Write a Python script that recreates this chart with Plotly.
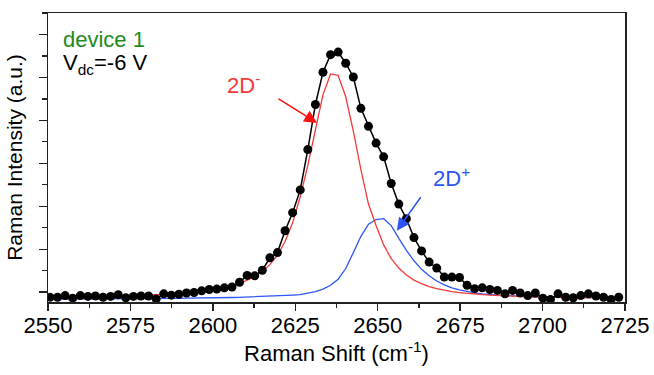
import plotly.graph_objects as go

# Raman shift grid (cm^-1)
shift = [2550.6, 2552.9, 2555.2, 2557.5, 2559.8, 2562.1, 2564.4, 2566.7, 2569.0, 2571.3,
         2573.6, 2575.9, 2578.2, 2580.5, 2582.8, 2585.1, 2587.4, 2589.7, 2592.0, 2594.3,
         2596.6, 2598.9, 2601.2, 2603.5, 2605.8, 2608.1, 2610.4, 2612.7, 2615.0, 2617.3,
         2619.6, 2621.9, 2624.2, 2626.5, 2628.8, 2631.1, 2633.4, 2635.7, 2638.0, 2640.3,
         2642.6, 2644.9, 2647.2, 2649.5, 2651.8, 2654.1, 2656.4, 2658.7, 2661.0, 2663.3,
         2665.6, 2667.9, 2670.2, 2672.5, 2674.8, 2677.1, 2679.4, 2681.7, 2684.0, 2686.3,
         2688.6, 2690.9, 2693.2, 2695.5, 2697.8, 2700.1, 2702.4, 2704.7, 2707.0, 2709.3,
         2711.6, 2713.9, 2716.2, 2718.5, 2720.8, 2723.1]

# measured spectrum (black dots)
measured = [-0.12, -0.12, -0.08, -0.14, -0.08, -0.10, -0.09, -0.12, -0.10, -0.06,
            -0.13, -0.10, -0.09, -0.09, -0.16, -0.04, -0.07, -0.05, -0.02, -0.01,
            0.03, 0.06, 0.07, 0.10, 0.12, 0.23, 0.39, 0.38, 0.51, 0.80,
            0.92, 1.43, 1.85, 2.38, 3.32, 4.37, 5.12, 5.53, 5.59, 5.33,
            5.01, 4.28, 3.86, 3.47, 3.15, 2.53, 2.05, 1.71, 1.27, 0.96,
            0.70, 0.56, 0.35, 0.35, 0.34, 0.16, 0.08, 0.10, 0.06, 0.04,
            -0.04, 0.04, -0.02, -0.08, -0.02, -0.14, -0.17, -0.04, -0.12, -0.13,
            -0.08, -0.04, -0.09, -0.12, -0.17, -0.12]

# 2D- component (red)
comp_minus = [-0.13, -0.13, -0.13, -0.12, -0.12, -0.12, -0.11, -0.11, -0.10, -0.10,
              -0.09, -0.09, -0.08, -0.07, -0.06, -0.05, -0.04, -0.03, -0.01, 0.01,
              0.03, 0.05, 0.08, 0.11, 0.15, 0.20, 0.28, 0.36, 0.48, 0.64,
              0.86, 1.18, 1.62, 2.22, 2.95, 3.80, 4.60, 5.08, 5.05, 4.55,
              3.75, 2.85, 2.05, 1.55, 1.10, 0.78, 0.56, 0.40, 0.28, 0.20,
              0.13, 0.08, 0.04, 0.01, -0.01, -0.03, -0.05, -0.06, -0.07, -0.08,
              -0.09, -0.10, -0.10, -0.11, -0.11, -0.12, -0.12, -0.12, -0.13, -0.13,
              -0.13, -0.13, -0.13, -0.14, -0.14, -0.14]

# 2D+ component (blue)
comp_plus = [-0.16, -0.16, -0.16, -0.16, -0.16, -0.16, -0.16, -0.155, -0.155, -0.155,
             -0.155, -0.15, -0.15, -0.15, -0.15, -0.15, -0.145, -0.145, -0.14, -0.14,
             -0.14, -0.135, -0.13, -0.13, -0.125, -0.12, -0.115, -0.11, -0.10, -0.095,
             -0.09, -0.08, -0.07, -0.06, -0.03, 0.01, 0.07, 0.16, 0.30, 0.55,
             0.92, 1.30, 1.58, 1.69, 1.71, 1.55, 1.25, 0.97, 0.73, 0.53,
             0.38, 0.26, 0.17, 0.10, 0.05, 0.01, -0.02, -0.04, -0.06, -0.07,
             -0.08, -0.09, -0.10, -0.10, -0.11, -0.11, -0.12, -0.12, -0.12, -0.13,
             -0.13, -0.13, -0.13, -0.14, -0.14, -0.14]

x_ticks = [2550, 2575, 2600, 2625, 2650, 2675, 2700, 2725]

RED = "#f23a3a"
BLUE = "#2d55f5"
GREEN = "#1e8c1e"
FONT = "Liberation Sans, Arial, Helvetica, sans-serif"

fig = go.Figure()
fig.add_trace(go.Scatter(x=shift, y=comp_plus, mode="lines",
                         line=dict(color=BLUE, width=1.3), showlegend=False))
fig.add_trace(go.Scatter(x=shift, y=comp_minus, mode="lines",
                         line=dict(color=RED, width=1.3), showlegend=False))
fig.add_trace(go.Scatter(x=shift, y=measured, mode="lines+markers",
                         line=dict(color="black", width=1.5),
                         marker=dict(color="black", size=9), showlegend=False))

fig.add_annotation(x=2554.0, y=5.88, xref="x", yref="y", text="device 1",
                   showarrow=False, xanchor="left", yanchor="middle",
                   font=dict(family=FONT, size=22, color=GREEN))
fig.add_annotation(x=2554.0, y=5.32, xref="x", yref="y", text="V<sub>dc</sub>=-6 V",
                   showarrow=False, xanchor="left", yanchor="middle",
                   font=dict(family=FONT, size=22, color="black"))
fig.add_annotation(x=2609.4, y=4.85, xref="x", yref="y", text="2D<sup>-</sup>",
                   showarrow=False, font=dict(family=FONT, size=22, color=RED))
fig.add_annotation(x=2672.5, y=2.68, xref="x", yref="y", text="2D<sup>+</sup>",
                   showarrow=False, font=dict(family=FONT, size=22, color=BLUE))
# arrows
fig.add_annotation(x=2631.6, y=3.94, xref="x", yref="y", text="", showarrow=True,
                   ax=-40, ay=-25, arrowhead=2, arrowsize=1.7, arrowwidth=1.5,
                   arrowcolor="#ff1010")
fig.add_annotation(x=2655.8, y=1.43, xref="x", yref="y", text="", showarrow=True,
                   ax=25, ay=-35, arrowhead=2, arrowsize=1.7, arrowwidth=1.5,
                   arrowcolor=BLUE)

fig.update_layout(
    width=654, height=375,
    margin=dict(l=48, r=29, t=13, b=73),
    paper_bgcolor="white", plot_bgcolor="white",
    font=dict(family=FONT, size=22, color="black"),
)
fig.update_xaxes(
    range=[2550, 2725], tickvals=x_ticks, ticktext=[str(v) for v in x_ticks],
    automargin=False,
    showline=True, linecolor="#222", linewidth=1.5, mirror=True,
    ticks="outside", ticklen=7, tickwidth=1.3, tickcolor="#222",
    minor=dict(dtick=12.5, tick0=2550, ticks="outside", ticklen=4, tickwidth=1.3, tickcolor="#222"),
    showgrid=False, zeroline=False,
    tickfont=dict(family=FONT, size=22),
    ticklabelstandoff=-4,
    title=dict(text="Raman Shift (cm<sup>-1</sup>)", font=dict(family=FONT, size=22), standoff=4),
)
fig.update_yaxes(
    range=[-0.23, 6.5], tick0=0, dtick=1, showticklabels=False,
    automargin=False,
    showline=True, linecolor="#222", linewidth=1.5, mirror=True,
    ticks="outside", ticklen=8, tickwidth=1.3, tickcolor="#222",
    minor=dict(dtick=0.5, tick0=0, ticks="outside", ticklen=5, tickwidth=1.3, tickcolor="#222"),
    showgrid=False, zeroline=False,
    title=dict(text="Raman Intensity (a.u.)", font=dict(family=FONT, size=21), standoff=10),
)

fig.write_html("out.html",
               config={"displayModeBar": False, "staticPlot": True},
               post_script="document.body.style.margin='0px';document.body.style.padding='0px';")
